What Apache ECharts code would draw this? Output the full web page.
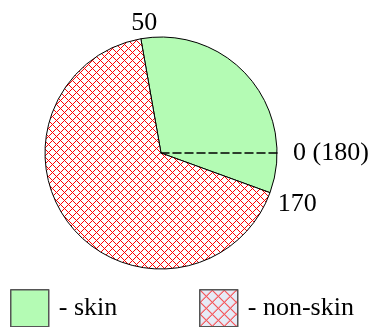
<!DOCTYPE html>
<html>
<head>
<meta charset="utf-8">
<script src="https://cdn.jsdelivr.net/npm/echarts@6/dist/echarts.min.js"></script>
<style>
  html, body { margin: 0; padding: 0; background: #fff; }
  #chart { width: 371px; height: 327px; }
</style>
</head>
<body>
<div id="chart"></div>
<script>
// Share of pixels per class, on a 0..180 angular scale
const categories = ['skin', 'non-skin'];
const sliceValues = [60, 120];
// Boundary positions marked around the circle
const boundaryTicks = [0, 50, 170];
const boundaryLabels = ['0 (180)', '50', '170'];
const scaleMax = 180;
const skinStart = 50; // skin slice runs clockwise from here through 0 to 170

const FONT = '"Liberation Serif", "Times New Roman", serif';
const GREEN = '#b4fbb4';

// Red cross-hatch tile
function hatch(period, bg) {
  const c = document.createElement('canvas');
  c.width = period; c.height = period;
  const ctx = c.getContext('2d');
  if (bg) { ctx.fillStyle = bg; ctx.fillRect(0, 0, period, period); }
  ctx.fillStyle = '#ff0000';
  for (let y = 0; y < period; y++) {
    for (let x = 0; x < period; x++) {
      if ((x + y) % period === 0 || ((x - y) % period + period) % period === 0) {
        ctx.fillRect(x, y, 1, 1);
      }
    }
  }
  return { image: c, repeat: 'repeat' };
}

const pieHatch = hatch(8, '#ffffff');
const legendHatch = hatch(12, '#e6ebf6');
const sliceColors = [GREEN, pieHatch];

const chart = echarts.init(document.getElementById('chart'), null, { renderer: 'canvas' });

const labelText = { fontFamily: FONT, fontSize: 26, color: '#000' };
// per-label nudges away from the rim
const labelPad = [[0, 0, 0, 12], [0, 0, 0, 8], [0, 0, 0, 4]];

chart.setOption({
  animation: false,
  backgroundColor: '#fff',
  polar: { center: [161, 153], radius: 116 },
  angleAxis: {
    type: 'value',
    min: 0,
    max: scaleMax,
    interval: 10,
    startAngle: 0,
    clockwise: false,
    axisLine: { show: false },
    axisTick: { show: false },
    splitLine: { show: false },
    axisLabel: {
      margin: 4,
      fontFamily: FONT,
      fontSize: 26,
      color: '#000',
      formatter: function (v) {
        const i = boundaryTicks.indexOf(v);
        if (i < 0) return '';
        return '{t' + i + '|' + boundaryLabels[i] + '}';
      },
      rich: {
        t0: Object.assign({ padding: labelPad[0] }, labelText),
        t1: Object.assign({ padding: labelPad[1], lineHeight: 24 }, labelText),
        t2: Object.assign({ padding: labelPad[2], lineHeight: 20 }, labelText)
      }
    }
  },
  radiusAxis: {
    type: 'value',
    min: 0,
    max: 1,
    z: 10,
    axisLine: { show: true, lineStyle: { color: '#000', width: 1.5, type: [8, 4] } },
    axisTick: { show: false },
    axisLabel: { show: false },
    splitLine: { show: false }
  },
  legend: [
    {
      left: 10, top: 289,
      padding: 0,
      itemWidth: 38, itemHeight: 37,
      data: [{ name: categories[0], icon: 'rect', itemStyle: { color: GREEN, borderColor: '#555', borderWidth: 1.5 } }],
      formatter: '- {name}',
      textStyle: Object.assign({ padding: [0, 0, 0, 5] }, labelText),
      selectedMode: false
    },
    {
      left: 199, top: 289,
      padding: 0,
      itemWidth: 38, itemHeight: 37,
      data: [{ name: categories[1], icon: 'rect', itemStyle: { color: legendHatch, borderColor: '#555', borderWidth: 1.5 } }],
      formatter: '- {name}',
      textStyle: Object.assign({ padding: [0, 0, 0, 5] }, labelText),
      selectedMode: false
    }
  ],
  series: [
    {
      type: 'scatter',
      coordinateSystem: 'polar',
      data: [],
      silent: true
    },
    {
      type: 'pie',
      center: [161, 153],
      radius: 116,
      startAngle: skinStart / scaleMax * 360,
      clockwise: true,
      label: { show: false },
      labelLine: { show: false },
      silent: true,
      itemStyle: { borderColor: '#000', borderWidth: 1 },
      data: categories.map((name, i) => ({
        name: name,
        value: sliceValues[i],
        itemStyle: { color: sliceColors[i] }
      }))
    }
  ]
});
</script>
</body>
</html>
